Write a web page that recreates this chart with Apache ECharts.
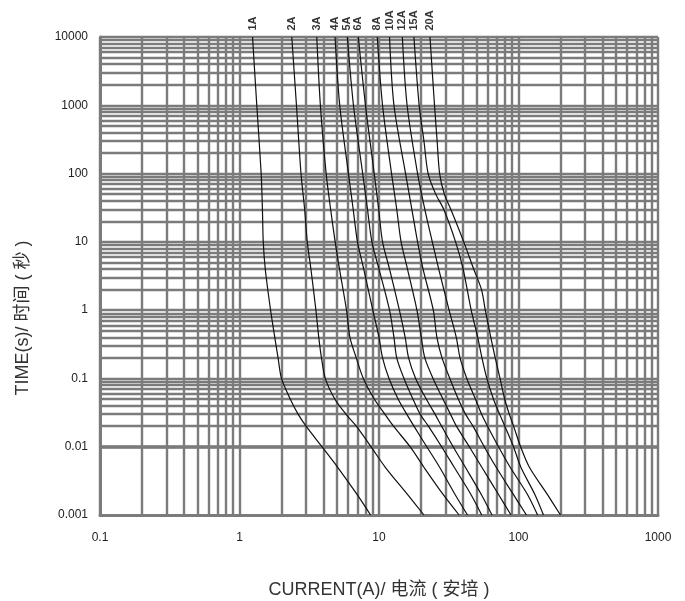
<!DOCTYPE html>
<html>
<head>
<meta charset="utf-8">
<script src="https://cdn.jsdelivr.net/npm/echarts@6/dist/echarts.min.js"></script>
<style>
html,body{margin:0;padding:0;background:#fff;}
#chart{width:685px;height:601px;}
</style>
</head>
<body>
<div id="chart"></div>
<script>
// ---- data (current in A, time in s) ----
const curveNames = ['1A','2A','3A','4A','5A','6A','8A','10A','12A','15A','20A'];
const curve1A = [[1.24,10000],[1.33,1000],[1.43,100],[1.46,30],[1.48,10],[1.53,4],[1.67,1],[1.79,0.4],[1.89,0.2],[2.0,0.1],[2.31,0.05],[2.63,0.03],[3.0,0.02],[3.9,0.01],[5.06,0.005],[6.96,0.002],[8.7,0.001]];
const curve2A = [[2.37,10000],[2.56,1000],[2.76,100],[2.93,30],[3.06,10],[3.25,4],[3.53,1],[3.70,0.4],[3.87,0.2],[4.12,0.1],[4.82,0.05],[5.79,0.03],[6.88,0.02],[8.76,0.01],[11.1,0.005],[16.0,0.002],[21.0,0.001]];
const curve3A = [[3.58,10000],[3.80,1000],[4.18,100],[4.50,30],[4.85,10],[5.21,4],[5.85,1],[6.19,0.4],[6.87,0.2],[7.72,0.1],[9.25,0.05],[11.0,0.03],[12.7,0.02],[16.7,0.01],[21.0,0.005],[28.8,0.002],[37.5,0.001]];
const curve4A = [[4.84,10000],[5.23,1000],[6.04,100],[6.53,30],[7.01,10],[7.77,4],[9.03,1],[10.0,0.4],[10.6,0.2],[11.8,0.1],[13.7,0.05],[15.8,0.03],[17.8,0.02],[22.0,0.01],[27.2,0.005],[35.1,0.002],[43.1,0.001]];
const curve5A = [[5.93,10000],[6.56,1000],[7.64,100],[8.27,30],[8.89,10],[10.0,4],[11.9,1],[12.8,0.4],[13.4,0.2],[15.1,0.1],[17.5,0.05],[19.7,0.03],[22.6,0.02],[28.1,0.01],[34.6,0.005],[45.6,0.002],[54.5,0.001]];
const curve6A = [[7.11,10000],[8.0,1000],[9.24,100],[9.95,30],[10.6,10],[11.9,4],[14.0,1],[15.4,0.4],[16.3,0.2],[18.3,0.1],[21.8,0.05],[25.2,0.03],[28.1,0.02],[34.0,0.01],[41.6,0.005],[54.1,0.002],[64.6,0.001]];
const curve8A = [[9.72,10000],[10.6,1000],[12.3,100],[13.4,30],[14.4,10],[16.0,4],[18.7,1],[20.1,0.4],[21.3,0.2],[24.4,0.1],[28.7,0.05],[32.5,0.03],[35.9,0.02],[44.4,0.01],[54.6,0.005],[71.9,0.002],[88.4,0.001]];
const curve10A = [[11.9,10000],[12.8,1000],[15.5,100],[17.2,30],[18.9,10],[20.7,4],[24.5,1],[26.0,0.4],[28.3,0.2],[32.2,0.1],[37.0,0.05],[41.7,0.03],[47.2,0.02],[56.8,0.01],[69.2,0.005],[91.8,0.002],[114,0.001]];
const curve12A = [[14.7,10000],[15.9,1000],[18.9,100],[21.3,30],[24.1,10],[26.8,4],[31.8,1],[35.8,0.4],[38.1,0.2],[42.6,0.1],[49.1,0.05],[54.4,0.03],[60.0,0.02],[71.9,0.01],[87.2,0.005],[116,0.002],[137,0.001]];
const curve15A = [[17.8,10000],[19.4,1000],[21.0,300],[22.5,100],[25.5,50],[29.1,30],[35.4,10],[40.1,4],[45.8,1],[51.0,0.4],[54.7,0.2],[59.3,0.1],[66.1,0.05],[73.2,0.03],[79.8,0.02],[92.1,0.01],[104,0.005],[131,0.002],[151,0.001]];
const curve20A = [[23.2,10000],[25.0,1000],[26.1,300],[27.2,100],[29.4,50],[32.7,30],[40.5,10],[47.7,4],[54.3,2],[57.8,1],[63.3,0.4],[68.1,0.2],[73.7,0.1],[79.6,0.05],[85.9,0.03],[92.2,0.02],[103.5,0.01],[119.7,0.005],[161,0.002],[200,0.001]];
const curves = [curve1A,curve2A,curve3A,curve4A,curve5A,curve6A,curve8A,curve10A,curve12A,curve15A,curve20A];

const xTickLabels = ['0.1','1','10','100','1000'];
const yTickLabels = ['0.001','0.01','0.1','1','10','100','1000','10000'];
const xDecades = [0.1,1,10,100,1000];
const yDecades = [0.001,0.01,0.1,1,10,100,1000,10000];
const minorSteps = [2,3,4,5,6,7,8,9];

// grid line values (decades + 2..9 subdivisions)
const xGrid = [];
xDecades.forEach((d,i)=>{ xGrid.push(d); if(i<xDecades.length-1) minorSteps.forEach(k=>xGrid.push(+(d*k).toPrecision(6))); });
const yGrid = [];
yDecades.forEach((d,i)=>{ yGrid.push(d); if(i<yDecades.length-1) minorSteps.forEach(k=>yGrid.push(+(d*k).toPrecision(6))); });

const chart = echarts.init(document.getElementById('chart'), null, {renderer:'canvas'});
const gridColor = '#7b7b7b';
const FONT = '"Liberation Sans", Arial, "Noto Sans CJK SC", sans-serif';

const series = [];
series.push({
  type:'line', name:'grid', data:[[1,1]], symbol:'none', silent:true, z:1,
  lineStyle:{opacity:0},
  markLine:{
    silent:true, symbol:['none','none'], animation:false,
    label:{show:false},
    lineStyle:{color:gridColor, width:2.4, type:'solid'},
    emphasis:{disabled:true},
    data: xGrid.map(v=>({xAxis:v})).concat(yGrid.map(v=>({yAxis:v})))
  }
});
curves.forEach((c,i)=>{
  series.push({
    type:'line', name:curveNames[i], data:c, showSymbol:false, symbol:'none',
    smooth:0.3, z:5, silent:true,
    lineStyle:{color:'#111', width:1.2}
  });
});
series.push({
  type:'scatter', name:'labels', z:6, silent:true, clip:false,
  symbolSize:1, itemStyle:{color:'rgba(0,0,0,0)'},
  data: curves.map((c,i)=>[c[0][0], c[0][1], curveNames[i]]),
  label:{
    show:true, formatter:p=>p.value[2], position:'top', distance:9,
    rotate:90, align:'left', verticalAlign:'middle', offset:[-3,0],
    fontFamily:FONT, fontWeight:'bold', fontSize:11, color:'#000'
  }
});

chart.setOption({
  animation:false,
  backgroundColor:'#fff',
  grid:{left:100, right:27, top:37, bottom:86, containLabel:false},
  xAxis:{
    type:'log', logBase:10, min:0.1, max:1000, splitNumber:4,
    axisLine:{show:true, onZero:false, lineStyle:{color:gridColor, width:3}},
    axisTick:{show:false}, splitLine:{show:false}, minorTick:{show:false},
    axisLabel:{
      margin:17, fontSize:12, color:'#222', fontFamily:FONT,
      formatter:v=>{ const e=Math.round(Math.log10(v)); return xTickLabels[e+1] ?? ''; }
    }
  },
  yAxis:{
    type:'log', logBase:10, min:0.001, max:10000, splitNumber:7,
    axisLine:{show:true, onZero:false, lineStyle:{color:gridColor, width:3}},
    axisTick:{show:false}, splitLine:{show:false}, minorTick:{show:false},
    axisLabel:{
      margin:12, fontSize:12, color:'#222', fontFamily:FONT,
      formatter:v=>{ const e=Math.round(Math.log10(v)); return yTickLabels[e+3] ?? ''; }
    }
  },
  graphic:[
    {type:'text', x:379, y:590, silent:true,
     style:{text:'CURRENT(A)/ 电流 ( 安培 )', font:'18px '+FONT, fill:'#333', textAlign:'center', textVerticalAlign:'middle'}},
    {type:'text', x:23, y:318, rotation:Math.PI/2, silent:true,
     style:{text:'TIME(s)/ 时间 ( 秒 )', font:'18px '+FONT, fill:'#333', textAlign:'center', textVerticalAlign:'middle'}}
  ],
  series:series
});
</script>
</body>
</html>
